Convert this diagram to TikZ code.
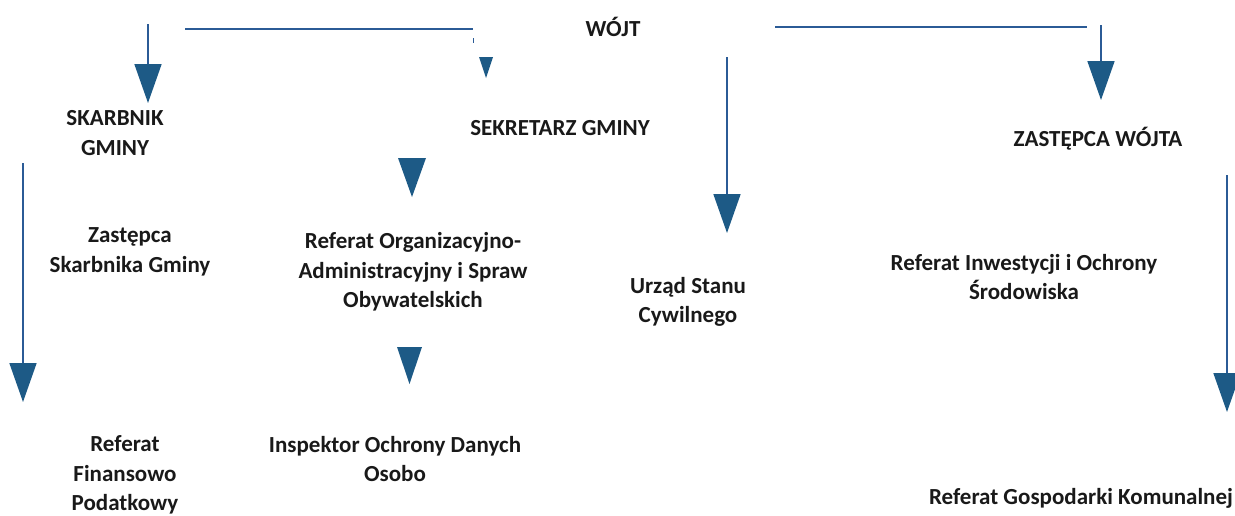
\documentclass[tikz,border=0pt]{standalone}
\usepackage{fontspec}
\setmainfont{Carlito}
\usepackage{tikz}
\usetikzlibrary{arrows.meta, positioning}
\definecolor{linkblue}{HTML}{2B5B96}
\definecolor{headblue}{HTML}{1D5A86}

\begin{document}
\begin{tikzpicture}[x=1pt, y=-1pt,
  unit/.style={font=\fontsize{23}{29.5}\selectfont\bfseries, align=center, text=black!90, inner sep=0pt},
  link/.style={draw=linkblue, line width=1.7pt, -{Triangle[width=27pt, length=39pt, color=headblue]}},
  rule/.style={draw=linkblue, line width=1.7pt},
  head/.style={fill=headblue}]
  \useasboundingbox (0,0) rectangle (1235,515);
  % top level
  \node[unit] (wojt) at (613,27) {WÓJT};
  \node[unit] (skarbnik) at (115,133) {SKARBNIK\\GMINY};
  \node[unit] (sekretarz) at (560,128) {SEKRETARZ GMINY};
  \node[unit] (zastepca) at (1098,139) {ZASTĘPCA WÓJTA};
  % second level
  \node[unit] (zskarbnika) at (130,252) {Zastępca\\Skarbnika Gminy};
  \node[unit] (rorg) at (413,272) {Referat Organizacyjno-\\Administracyjny i Spraw\\Obywatelskich};
  \node[unit] (usc) at (688,302) {Urząd Stanu\\Cywilnego};
  \node[unit] (rios) at (1024,277) {Referat Inwestycji i Ochrony\\Środowiska};
  % bottom level
  \node[unit] (rfp) at (125,475) {Referat\\Finansowo\\Podatkowy};
  \node[unit] (iod) at (395,459) {Inspektor Ochrony Danych\\Osobo};
  \node[unit] (rgk) at (1081,498) {Referat Gospodarki Komunalnej};

  % arrow ends
  \coordinate (skarbA) at (148,24);   \coordinate (skarbB) at (148,103);
  \coordinate (ruleLA) at (185,29);   \coordinate (ruleLB) at (473,29);
  \coordinate (tickA) at (473,38);    \coordinate (tickB) at (473,43);
  \coordinate (ruleRA) at (775,27);   \coordinate (ruleRB) at (1087,27);
  \coordinate (zastA) at (1101,25);   \coordinate (zastB) at (1101,100);
  \coordinate (uscA) at (727,57);     \coordinate (uscB) at (727,233);
  \coordinate (leftA) at (23,163);    \coordinate (leftB) at (23,402);
  \coordinate (rightA) at (1227,175); \coordinate (rightB) at (1227,412);

  % connectors from WÓJT
  \draw[link] (skarbA) -- (skarbB);
  \draw[rule] (ruleLA) -- (ruleLB);
  \draw[rule, line width=1pt] (tickA) -- (tickB);
  \draw[rule] (ruleRA) -- (ruleRB);
  \draw[link] (zastA) -- (zastB);
  \draw[link] (uscA) -- (uscB);
  % long side arrows
  \draw[link] (leftA) -- (leftB);
  \draw[link] (rightA) -- (rightB);
  % loose heads
  \fill[head] (479,57) -- (493,57) -- (486,78) -- cycle;
  \fill[head] (398,158) -- (426,158) -- (412,197) -- cycle;
  \fill[head] (397,347) -- (422,347) -- (409.5,384) -- cycle;
\end{tikzpicture}
\end{document}
